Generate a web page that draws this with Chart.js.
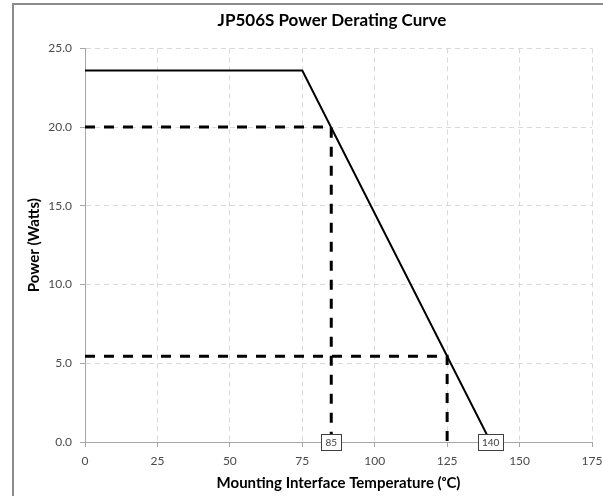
<!DOCTYPE html>
<html>
<head>
<meta charset="utf-8">
<script src="https://cdn.jsdelivr.net/npm/chart.js@4"></script>
<style>
  html, body { margin: 0; padding: 0; background: #fff; overflow: hidden; }
  #wrap {
    position: absolute; left: 12px; top: 3px;
    border-left: 2px solid #8c8c8c; border-top: 2px solid #8c8c8c;
  }
  canvas { display: block; }
</style>
</head>
<body>
<div id="wrap"><canvas id="derating" width="636" height="491"></canvas></div>
<script>
// 데이터
const curveTemp = [0, 75, 140];
const curvePower = [23.6, 23.6, 0];
const mark85Temp = [0, 85, 85];
const mark85Power = [20, 20, 0];
const mark125Temp = [0, 125, 125];
const mark125Power = [5.45, 5.45, 0];
const boxLabels = [85, 140];
const xTicks = [0, 25, 50, 75, 100, 125, 150, 175];
const yTicks = [0, 5, 10, 15, 20, 25];

const FONT = 'Lato, "Open Sans", sans-serif';
const toPts = (xs, ys) => xs.map((x, i) => ({ x, y: ys[i] }));

// 축 위에 박스 라벨 (85, 140)
const boxLabelPlugin = {
    id: 'boxLabels',
    afterDatasetsDraw(chart) {
        const { ctx, scales } = chart;
        ctx.save();
        ctx.font = '10px ' + FONT;
        ctx.textAlign = 'center';
        ctx.textBaseline = 'middle';
        boxLabels.forEach(v => {
            const px = scales.x.getPixelForValue(v);
            const py = scales.y.getPixelForValue(0);
            const txt = String(v);
            const w = ctx.measureText(txt).width + 8;
            const h = 16;
            ctx.fillStyle = '#fff';
            ctx.fillRect(px - w / 2, py - h / 2, w, h);
            ctx.strokeStyle = '#404040';
            ctx.lineWidth = 1;
            ctx.strokeRect(Math.round(px - w / 2) + 0.5, Math.round(py - h / 2) + 0.5, Math.round(w), h);
            ctx.fillStyle = '#404040';
            ctx.fillText(txt, px, py + 1);
        });
        ctx.restore();
    }
};

const dashed = { borderColor: '#000', borderWidth: 3, borderDash: [10, 9], pointRadius: 0, fill: false };

new Chart(document.getElementById('derating').getContext('2d'), {
    type: 'scatter',
    data: {
        datasets: [
            { data: toPts(mark85Temp, mark85Power), showLine: true, ...dashed },
            { data: toPts(mark125Temp, mark125Power), showLine: true, ...dashed },
            { data: toPts(curveTemp, curvePower), showLine: true, borderColor: '#000', borderWidth: 2, pointRadius: 0 }
        ]
    },
    options: {
        responsive: false,
        animation: false,
        layout: { padding: 0 },
        plugins: {
            legend: { display: false },
            tooltip: { enabled: false },
            title: {
                display: true,
                text: 'JP506S Power Derating Curve',
                color: '#000',
                font: { family: FONT, size: 17, weight: 'bold' },
                padding: { top: 5, bottom: 18 }
            }
        },
        scales: {
            x: {
                type: 'linear', min: 0, max: 175,
                afterBuildTicks: s => { s.ticks = xTicks.map(v => ({ value: v })); },
                ticks: { color: '#4a4a4a', font: { family: FONT, size: 12 }, padding: 7, maxRotation: 0 },
                grid: { color: '#d9d9d9', tickColor: '#a6a6a6', tickLength: 5, tickBorderDash: [] },
                border: { color: '#a6a6a6', width: 1, dash: [5, 4] },
                title: {
                    display: true, text: 'Mounting Interface Temperature (ᵒC)', color: '#000',
                    font: { family: FONT, size: 15, weight: 'bold' }, padding: { top: 2, bottom: 4 }
                },
                afterFit: s => { s.height = 54; }
            },
            y: {
                type: 'linear', min: 0, max: 25,
                afterBuildTicks: s => { s.ticks = yTicks.map(v => ({ value: v })); },
                ticks: { color: '#4a4a4a', font: { family: FONT, size: 12 }, padding: 8, callback: v => v.toFixed(1) },
                grid: { color: '#d9d9d9', tickColor: '#a6a6a6', tickLength: 5, tickBorderDash: [] },
                border: { color: '#a6a6a6', width: 1, dash: [5, 4] },
                title: {
                    display: true, text: 'Power (Watts)', color: '#000',
                    font: { family: FONT, size: 15, weight: 'bold' }, padding: { top: 11, bottom: 0 }
                },
                afterFit: s => { s.width = 71; }
            },
            // 오른쪽 여백용 (제목 가운데 정렬 맞추기)
            yPad: {
                type: 'linear', position: 'right', display: true,
                grid: { display: false }, ticks: { display: false }, border: { display: false },
                afterFit: s => { s.width = 58; }
            }
        }
    },
    plugins: [boxLabelPlugin]
});
</script>
</body>
</html>
